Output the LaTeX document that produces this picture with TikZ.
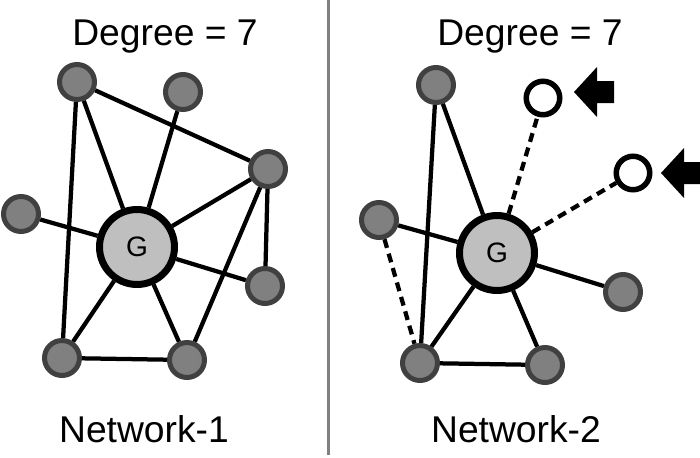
\documentclass[tikz,border=0pt]{standalone}
\usepackage{fontspec}
\setmainfont{Liberation Sans}
\usepackage{tikz}
\usetikzlibrary{positioning}
\tikzset{peer/.style = {circle, draw=black!75, fill=black!50, line width=0.1cm,
                        minimum size=0.7cm, inner sep=0pt},
         newpeer/.style = {circle, draw=black, fill=white, line width=0.11cm,
                           minimum size=0.67cm, inner sep=0pt},
         hub/.style = {circle, draw=black, fill=black!25, line width=0.14cm,
                       minimum size=1.5cm, inner sep=0pt,
                       font=\fontsize{16}{18}\selectfont},
         link/.style = {line width=0.085cm},
         newlink/.style = {link, dash pattern=on 0.18cm off 0.12cm},
         caption/.style = {anchor=base, inner sep=0pt,
                           font=\fontsize{21.2}{25}\selectfont}}

\begin{document}
\begin{tikzpicture}[x=0.02cm, y=-0.02cm]
      \useasboundingbox (0, 0) rectangle (700, 457);
      \draw [black!50, line width=0.07cm] (328.5, 0) -- (328.5, 455);

      % network 1
      \node [caption] (deg1) at (165, 45) {Degree = 7};
      \node [caption] (net1) at (144, 442) {Network-1};
      \node [hub] (g1) at (137, 247) {G};
      \node [peer] (a1) at (77, 82) {};
      \node [peer] (a2) at (183, 92) {};
      \node [peer] (a3) at (268, 169) {};
      \node [peer] (a4) at (21, 214) {};
      \node [peer] (a5) at (265, 286) {};
      \node [peer] (a6) at (62, 358) {};
      \node [peer] (a7) at (187, 360) {};
      \foreach \n in {a1,a2,a3,a4,a5,a6,a7} {
        \draw [link] (g1) -- (\n);
      }
      \draw [link] (a1) -- (a3);
      \draw [link] (a1) -- (a6);
      \draw [link] (a3) -- (a5);
      \draw [link] (a3) -- (a7);
      \draw [link] (a6) -- (a7);

      % network 2
      \node [caption] (deg2) at (530, 45) {Degree = 7};
      \node [caption] (net2) at (516, 442) {Network-2};
      \node [hub] (g2) at (497, 253) {G};
      \node [peer] (b1) at (436, 85) {};
      \node [newpeer] (c1) at (543, 98) {};
      \node [newpeer] (c2) at (633, 173) {};
      \node [peer] (b2) at (379, 220) {};
      \node [peer] (b3) at (623, 292) {};
      \node [peer] (b4) at (420, 363) {};
      \node [peer] (b5) at (545, 365) {};
      \foreach \n in {b1,b2,b3,b4,b5} {
        \draw [link] (g2) -- (\n);
      }
      \draw [newlink] (g2) -- (c1);
      \draw [newlink] (g2) -- (c2);
      \draw [newlink] (b2) -- (b4);
      \draw [link] (b1) -- (b4);
      \draw [link] (b4) -- (b5);

      % markers for the new links
      \foreach \x/\y in {574/92, 661/173} {
        \fill (\x, \y) -- ++(23, -25) -- ++(0, 14) -- ++(17, 0) -- ++(0, 22)
                       -- ++(-17, 0) -- ++(0, 14) -- cycle;
      }
    \end{tikzpicture}
\end{document}
